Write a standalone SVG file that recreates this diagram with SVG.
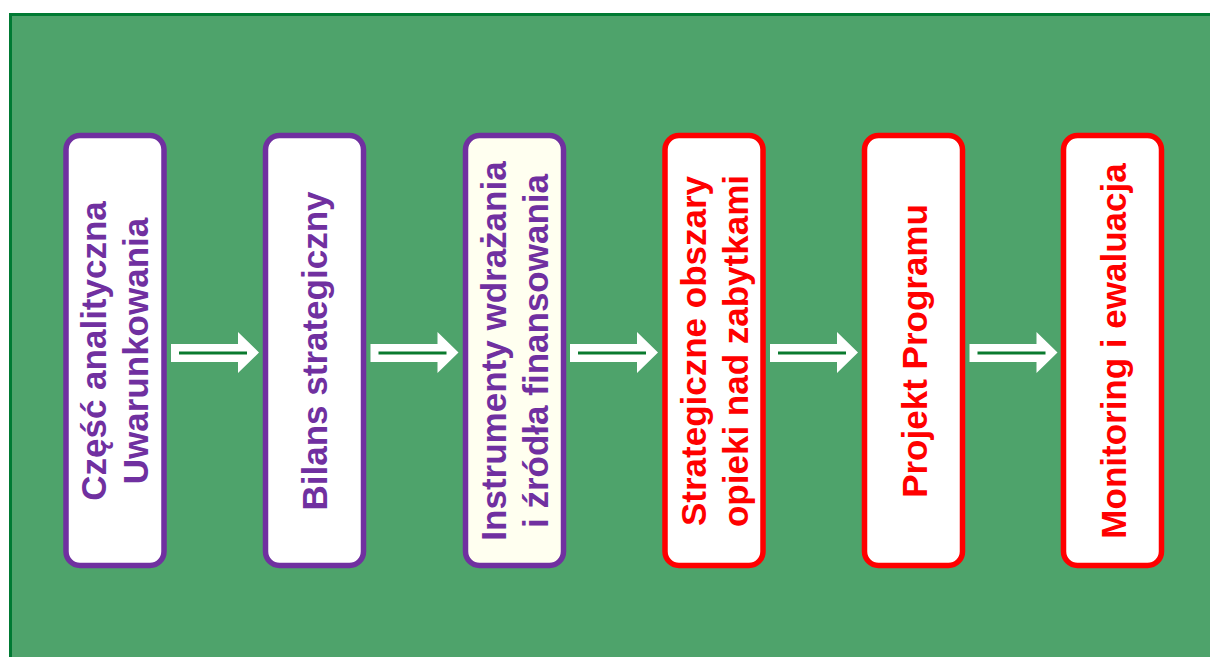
<svg xmlns="http://www.w3.org/2000/svg" width="1210" height="657" viewBox="0 0 1210 657">
<defs>
<style>
.bg{fill:#4EA36B;}
.edge{fill:none;stroke:#007A33;stroke-width:3;}
.box{stroke-width:5.5;}
.pur{fill:#FFFFFF;stroke:#7030A0;}
.cream{fill:#FFFFF0;stroke:#7030A0;}
.red{fill:#FFFFFF;stroke:#FF0000;}
.t{font-family:"Liberation Sans",Arial,sans-serif;font-weight:bold;font-size:35px;text-anchor:middle;}
.tp{fill:#7030A0;}
.tr{fill:#FF0000;}
.arr{fill:#FFFFFF;}
.aline{stroke:#0A7A2E;stroke-width:3;fill:none;}
</style>
<g id="arrowShape">
<path class="arr" d="M0,344 L67,344 L67,332 L88,352.5 L67,373 L67,362 L0,362 Z"/>
<line class="aline" x1="8" y1="353" x2="76" y2="353"/>
</g>
</defs>
<rect class="bg" x="9" y="13" width="1201" height="644"/>
<path class="edge" d="M10.5,657 L10.5,14.5 L1210,14.5"/>

<g id="connectors">
<use href="#arrowShape" x="171"/>
<use href="#arrowShape" x="370.5"/>
<use href="#arrowShape" x="570"/>
<use href="#arrowShape" x="770"/>
<use href="#arrowShape" x="969.5"/>
</g>

<g id="node1">
<rect class="box pur" x="66" y="135.5" width="98" height="430" rx="14"/>
<g transform="translate(115,351) rotate(-90)">
<text class="t tp" x="0" y="-9">Część analityczna</text>
<text class="t tp" x="0" y="33">Uwarunkowania</text>
</g>
</g>

<g id="node2">
<rect class="box pur" x="265.5" y="135.5" width="98" height="430" rx="14"/>
<text class="t tp" transform="translate(314.5,351) rotate(-90)" x="0" y="12">Bilans strategiczny</text>
</g>

<g id="node3">
<rect class="box cream" x="465.5" y="135.5" width="98" height="430" rx="14"/>
<g transform="translate(514.5,351) rotate(-90)">
<text class="t tp" x="0" y="-9">Instrumenty wdrażania</text>
<text class="t tp" x="0" y="33">i źródła finansowania</text>
</g>
</g>

<g id="node4">
<rect class="box red" x="665" y="135.5" width="98" height="430" rx="14"/>
<g transform="translate(714,351) rotate(-90)">
<text class="t tr" x="0" y="-8">Strategiczne obszary</text>
<text class="t tr" x="0" y="34">opieki nad zabytkami</text>
</g>
</g>

<g id="node5">
<rect class="box red" x="864.5" y="135.5" width="98" height="430" rx="14"/>
<text class="t tr" transform="translate(913.5,351) rotate(-90)" x="0" y="13">Projekt Programu</text>
</g>

<g id="node6">
<rect class="box red" x="1063.5" y="135.5" width="98" height="430" rx="14"/>
<text class="t tr" transform="translate(1112.5,351) rotate(-90)" x="0" y="13">Monitoring i ewaluacja</text>
</g>
</svg>
